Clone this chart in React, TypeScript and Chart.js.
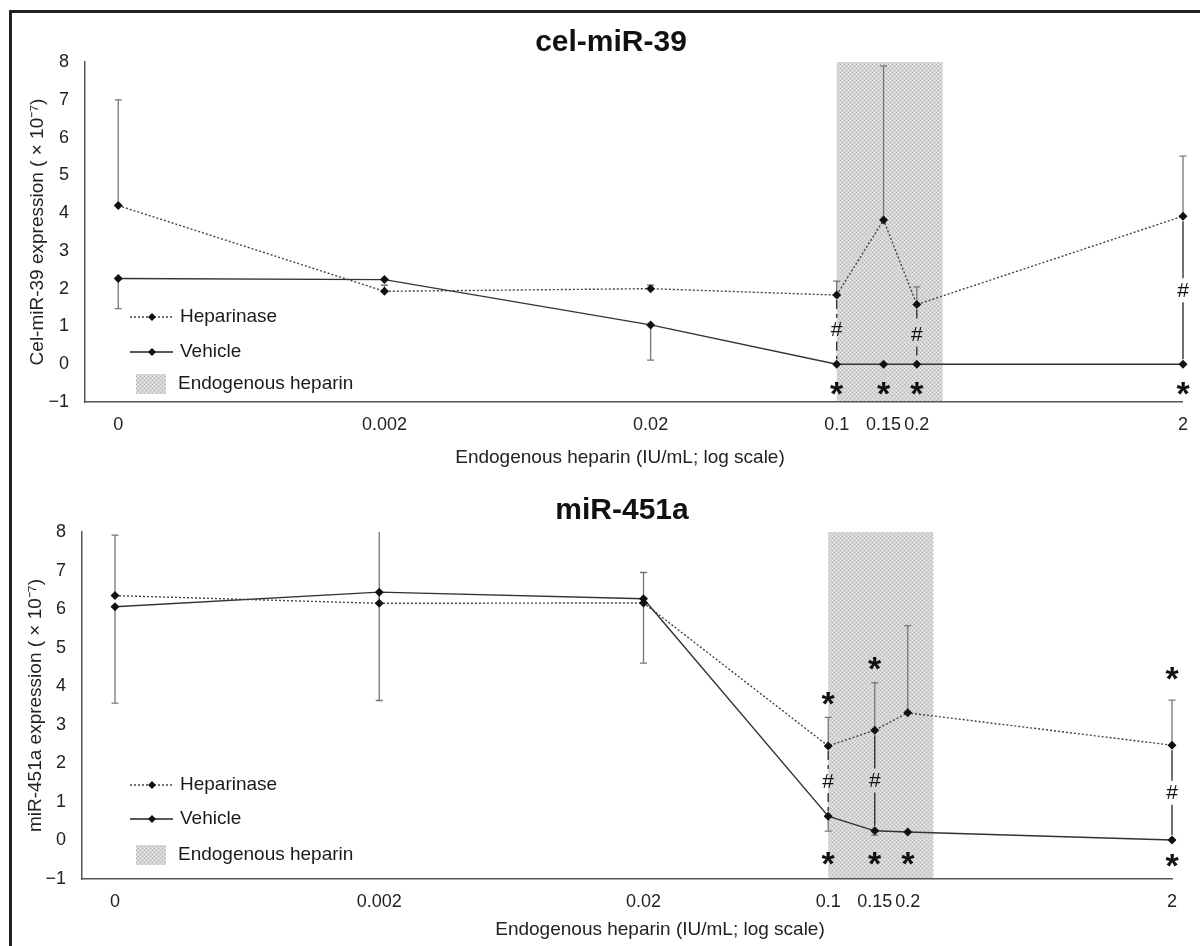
import React, { useEffect, useRef } from "react";
import { Chart, registerables } from "chart.js";

Chart.register(...registerables);

const FONT = "Arial, 'Liberation Sans', Helvetica, sans-serif";

// ---- shared x axis (log scale; "0" plotted one decade below 0.002) ----
const concentrations = [0.0002, 0.002, 0.02, 0.1, 0.15, 0.2, 2];
const xTickLabels = ["0", "0.002", "0.02", "0.1", "0.15", "0.2", "2"];
const xAxisMin = 0.00015;
const xAxisMax = 2;
const yAxisMin = -1;
const yAxisMax = 8;
const endogenousRange = [0.1, 0.25];
const xAxisTitle = "Endogenous heparin (IU/mL; log scale)";
const seriesNames = ["Heparinase", "Vehicle", "Endogenous heparin"];

// ---- cel-miR-39 ----
const celTitle = "cel-miR-39";
const celYTitle = "Cel-miR-39 expression ( × 10⁻⁷)";
const celHeparinase = [4.2, 1.93, 2.0, 1.83, 3.82, 1.58, 3.92];
const celHeparinaseErrUp = [2.8, 0.16, 0.09, 0.37, 4.08, 0.47, 1.59];
const celVehicle = [2.27, 2.24, 1.04, 0.0, 0.0, 0.0, 0.0];
const celVehicleErrDown = [0.8, 0, 0.93, 0, 0, 0, 0];
const celHashX = [0.1, 0.2, 2];
const celHashDashed = [true, true, false];
const celStarX = [0.1, 0.15, 0.2, 2];
const celStarY = [-0.63, -0.63, -0.63, -0.63];

// ---- miR-451a ----
const mirTitle = "miR-451a";
const mirYTitle = "miR-451a expression ( × 10⁻⁷)";
const mirHeparinase = [6.35, 6.15, 6.16, 2.45, 2.86, 3.31, 2.47];
const mirHeparinaseErrUp = [1.57, 2.3, 0.79, 0.74, 1.23, 2.26, 1.17];
const mirVehicle = [6.06, 6.44, 6.27, 0.63, 0.25, 0.22, 0.01];
const mirVehicleErrDown = [2.5, 2.81, 1.67, 0.39, 0.11, 0, 0];
const mirHashX = [0.1, 0.15, 2];
const mirHashDashed = [true, false, false];
const mirStarX = [0.1, 0.15, 0.2, 2, 0.1, 0.15, 2];
const mirStarY = [-0.48, -0.48, -0.48, -0.53, 3.67, 4.6, 4.34];

type PanelCfg = {
  title: string;
  titlePos: [number, number];
  yTitle: string;
  yTitlePad: number;
  heparinase: number[];
  hepErrUp: number[];
  vehicle: number[];
  vehErrDown: number[];
  hashX: number[];
  hashDashed: boolean[];
  starX: number[];
  starY: number[];
  padTop: number;
  padRight: number;
  yWidth: number;
  xHeight: number;
  xTitlePos: [number, number];
  legendRows: number[];
  width: number;
  height: number;
};

function makePattern(ctx: CanvasRenderingContext2D) {
  const c = document.createElement("canvas");
  c.width = 4;
  c.height = 4;
  const g = c.getContext("2d")!;
  g.fillStyle = "#d5d5d5";
  g.fillRect(0, 0, 4, 4);
  g.fillStyle = "#b8b8b8";
  g.fillRect(0, 0, 1, 1);
  g.fillRect(2, 2, 1, 1);
  g.fillStyle = "#e6e6e6";
  g.fillRect(2, 0, 1, 1);
  g.fillRect(0, 2, 1, 1);
  return ctx.createPattern(c, "repeat")!;
}

function drawDiamond(ctx: CanvasRenderingContext2D, x: number, y: number, r: number) {
  ctx.beginPath();
  ctx.moveTo(x, y - r);
  ctx.lineTo(x + r, y);
  ctx.lineTo(x, y + r);
  ctx.lineTo(x - r, y);
  ctx.closePath();
  ctx.fill();
}

function makeDecor(cfg: PanelCfg) {
  let pattern: CanvasPattern | null = null;
  return {
    id: "decor",
    beforeDatasetsDraw(chart: any) {
      const { ctx, chartArea: a, scales } = chart;
      const x = scales.x;
      const y = scales.y;
      if (!pattern) pattern = makePattern(ctx);
      // endogenous heparin band
      const x0 = x.getPixelForValue(endogenousRange[0]);
      const x1 = x.getPixelForValue(endogenousRange[1]);
      ctx.save();
      ctx.fillStyle = pattern;
      ctx.fillRect(x0, a.top, x1 - x0, a.bottom - a.top - 1);
      ctx.restore();

      // error bars
      ctx.save();
      ctx.beginPath();
      ctx.rect(a.left, a.top, a.right - a.left + 10, a.bottom - a.top);
      ctx.clip();
      ctx.strokeStyle = "#777";
      ctx.lineWidth = 1.3;
      const cap = 3.5;
      const bar = (px: number, v0: number, v1: number) => {
        const p0 = y.getPixelForValue(v0);
        const p1 = y.getPixelForValue(v1);
        ctx.beginPath();
        ctx.moveTo(px, p0);
        ctx.lineTo(px, p1);
        ctx.moveTo(px - cap, p1);
        ctx.lineTo(px + cap, p1);
        ctx.stroke();
      };
      concentrations.forEach((c, i) => {
        const px = x.getPixelForValue(c);
        if (cfg.hepErrUp[i] > 0) bar(px, cfg.heparinase[i], cfg.heparinase[i] + cfg.hepErrUp[i]);
        if (cfg.vehErrDown[i] > 0) bar(px, cfg.vehicle[i], cfg.vehicle[i] - cfg.vehErrDown[i]);
      });
      ctx.restore();
    },
    afterDatasetsDraw(chart: any) {
      const { ctx, scales } = chart;
      const x = scales.x;
      const y = scales.y;

      // significance lines with "#"
      ctx.save();
      ctx.strokeStyle = "#333";
      ctx.lineWidth = 1.4;
      ctx.fillStyle = "#111";
      ctx.font = `21px ${FONT}`;
      ctx.textAlign = "center";
      ctx.textBaseline = "middle";
      cfg.hashX.forEach((hx, k) => {
        const i = concentrations.indexOf(hx);
        const px = x.getPixelForValue(hx);
        const pTop = y.getPixelForValue(cfg.heparinase[i]) + 5;
        const pBot = y.getPixelForValue(cfg.vehicle[i]) - 5;
        const mid = (pTop + pBot) / 2;
        ctx.setLineDash(cfg.hashDashed[k] ? [9, 5] : []);
        ctx.beginPath();
        ctx.moveTo(px, pTop);
        ctx.lineTo(px, mid - 12);
        ctx.moveTo(px, mid + 12);
        ctx.lineTo(px, pBot);
        ctx.stroke();
        ctx.fillText("#", px, mid + 1);
      });
      ctx.setLineDash([]);

      // asterisks
      ctx.font = `bold 34px ${FONT}`;
      ctx.textBaseline = "alphabetic";
      const m = ctx.measureText("*");
      const off = (m.actualBoundingBoxAscent - m.actualBoundingBoxDescent) / 2;
      cfg.starX.forEach((sx, k) => {
        ctx.fillText("*", x.getPixelForValue(sx), y.getPixelForValue(cfg.starY[k]) + off);
      });
      ctx.restore();

      // legend
      ctx.save();
      ctx.font = `19px ${FONT}`;
      ctx.textAlign = "left";
      ctx.textBaseline = "middle";
      const [r0, r1, r2] = cfg.legendRows;
      ctx.strokeStyle = "#444";
      ctx.lineWidth = 1.3;
      ctx.setLineDash([2, 2]);
      ctx.beginPath();
      ctx.moveTo(130, r0);
      ctx.lineTo(173, r0);
      ctx.stroke();
      ctx.setLineDash([]);
      ctx.strokeStyle = "#222";
      ctx.beginPath();
      ctx.moveTo(130, r1);
      ctx.lineTo(173, r1);
      ctx.stroke();
      ctx.fillStyle = "#111";
      drawDiamond(ctx, 152, r0, 4);
      drawDiamond(ctx, 152, r1, 4);
      ctx.fillStyle = pattern || "#ccc";
      ctx.fillRect(136, r2 - 10, 30, 20);
      ctx.fillStyle = "#1a1a1a";
      ctx.fillText(seriesNames[0], 180, r0);
      ctx.fillText(seriesNames[1], 180, r1);
      ctx.fillText(seriesNames[2], 178, r2);
      ctx.restore();

      // titles
      ctx.save();
      ctx.fillStyle = "#111";
      ctx.textAlign = "center";
      ctx.textBaseline = "middle";
      ctx.font = `bold 30px ${FONT}`;
      ctx.fillText(cfg.title, cfg.titlePos[0], cfg.titlePos[1]);
      ctx.font = `19px ${FONT}`;
      ctx.fillStyle = "#222";
      ctx.fillText(xAxisTitle, cfg.xTitlePos[0], cfg.xTitlePos[1]);
      ctx.restore();
    },
  };
}

function Panel({ cfg, top }: { cfg: PanelCfg; top: number }) {
  const ref = useRef<HTMLCanvasElement>(null);
  useEffect(() => {
    if (!ref.current) return;
    const chart = new Chart(ref.current, {
      type: "line",
      data: {
        datasets: [
          {
            label: seriesNames[0],
            data: concentrations.map((c, i) => ({ x: c, y: cfg.heparinase[i] })),
            borderColor: "#444",
            borderWidth: 1.4,
            borderDash: [2, 2],
            pointStyle: "rectRot",
            pointRadius: 4.5,
            pointBackgroundColor: "#111",
            pointBorderColor: "#111",
            pointBorderWidth: 0,
            tension: 0,
            clip: false,
          } as any,
          {
            label: seriesNames[1],
            data: concentrations.map((c, i) => ({ x: c, y: cfg.vehicle[i] })),
            borderColor: "#333",
            borderWidth: 1.4,
            pointStyle: "rectRot",
            pointRadius: 4.5,
            pointBackgroundColor: "#111",
            pointBorderColor: "#111",
            pointBorderWidth: 0,
            tension: 0,
            clip: false,
          } as any,
        ],
      },
      options: {
        responsive: false,
        animation: false,
        devicePixelRatio: 1,
        layout: { padding: { top: cfg.padTop, right: cfg.padRight, bottom: 0, left: 0 } },
        plugins: {
          legend: { display: false },
          title: { display: false },
          tooltip: { enabled: false },
        },
        scales: {
          x: {
            type: "logarithmic",
            min: xAxisMin,
            max: xAxisMax,
            grid: { display: false, drawTicks: false },
            border: { display: true, color: "#555", width: 1.5 },
            ticks: {
              autoSkip: false,
              maxRotation: 0,
              minRotation: 0,
              padding: 12,
              color: "#222",
              font: { size: 18, family: FONT },
              callback: (_v: any, i: number) => xTickLabels[i],
            },
            afterBuildTicks: (s: any) => {
              s.ticks = concentrations.map((v) => ({ value: v }));
            },
            afterFit: (s: any) => {
              s.height = cfg.xHeight;
            },
          } as any,
          y: {
            type: "linear",
            min: yAxisMin,
            max: yAxisMax,
            grid: { display: false, drawTicks: false },
            border: { display: true, color: "#555", width: 1.5 },
            ticks: {
              stepSize: 1,
              padding: 16,
              color: "#222",
              font: { size: 18, family: FONT },
              callback: (v: any) => (Number(v) < 0 ? "−" + Math.abs(Number(v)) : String(v)),
            },
            title: {
              display: true,
              text: cfg.yTitle,
              color: "#222",
              font: { size: 19, family: FONT },
              padding: { top: cfg.yTitlePad, bottom: 0 },
            },
            afterFit: (s: any) => {
              s.width = cfg.yWidth;
            },
          } as any,
        },
      },
      plugins: [makeDecor(cfg) as any],
    });
    return () => chart.destroy();
  }, [cfg]);
  return (
    <canvas
      ref={ref}
      width={cfg.width}
      height={cfg.height}
      style={{ position: "absolute", left: 0, top, width: cfg.width, height: cfg.height }}
    />
  );
}

const celCfg: PanelCfg = {
  title: celTitle,
  titlePos: [611, 43],
  yTitle: celYTitle,
  yTitlePad: 26,
  heparinase: celHeparinase,
  hepErrUp: celHeparinaseErrUp,
  vehicle: celVehicle,
  vehErrDown: celVehicleErrDown,
  hashX: celHashX,
  hashDashed: celHashDashed,
  starX: celStarX,
  starY: celStarY,
  padTop: 62,
  padRight: 14,
  yWidth: 85,
  xHeight: 68,
  xTitlePos: [620, 458],
  legendRows: [317, 352, 384],
  width: 1200,
  height: 470,
};

const mirCfg: PanelCfg = {
  title: mirTitle,
  titlePos: [622, 41],
  yTitle: mirYTitle,
  yTitlePad: 24,
  heparinase: mirHeparinase,
  hepErrUp: mirHeparinaseErrUp,
  vehicle: mirVehicle,
  vehErrDown: mirVehicleErrDown,
  hashX: mirHashX,
  hashDashed: mirHashDashed,
  starX: mirStarX,
  starY: mirStarY,
  padTop: 62,
  padRight: 28,
  yWidth: 82,
  xHeight: 67,
  xTitlePos: [660, 460],
  legendRows: [315, 349, 385],
  width: 1200,
  height: 476,
};

export default function App() {
  return (
    <div
      style={{
        position: "absolute",
        left: 0,
        top: 0,
        width: 1200,
        height: 946,
        background: "#fff",
        overflow: "hidden",
      }}
    >
      <div
        style={{
          position: "absolute",
          left: 9,
          top: 10,
          width: 1191,
          height: 936,
          borderTop: "3px solid #222",
          borderLeft: "3px solid #222",
          boxSizing: "border-box",
        }}
      />
      <Panel cfg={celCfg} top={0} />
      <Panel cfg={mirCfg} top={470} />
    </div>
  );
}
